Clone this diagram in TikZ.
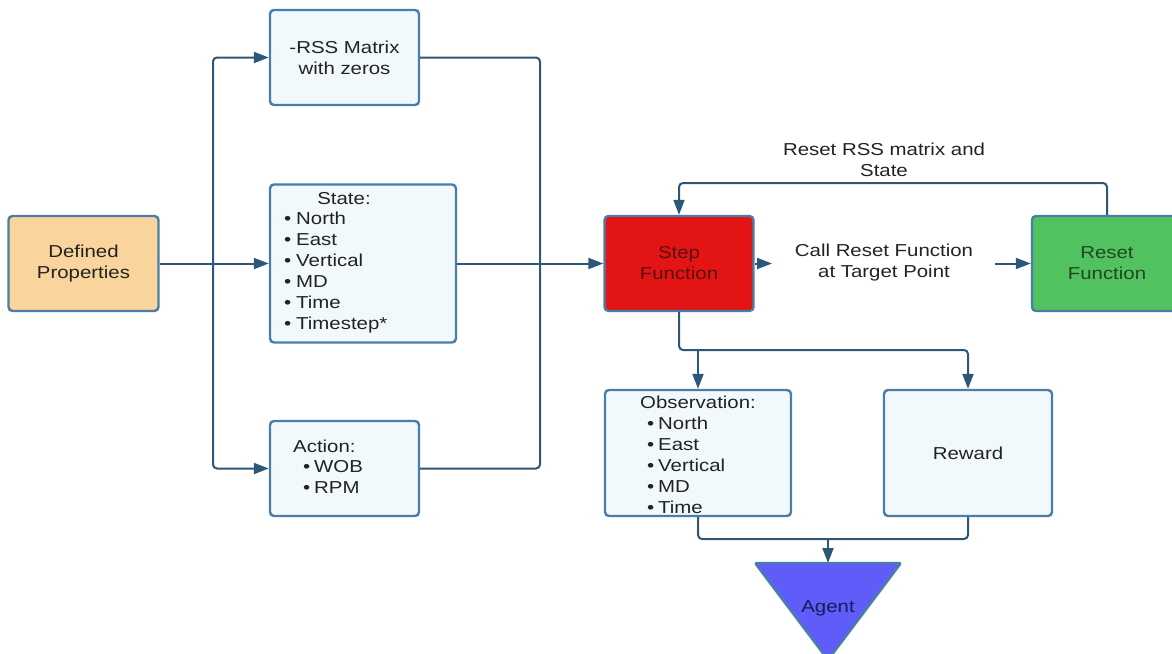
\documentclass[tikz,border=0pt]{standalone}
\usepackage{fontspec}
\setmainfont[FakeStretch=1.18]{Liberation Sans}
\usetikzlibrary{arrows.meta}
\definecolor{bordercol}{HTML}{4A7DA8}
\definecolor{conncol}{HTML}{2D5677}
\definecolor{boxfill}{HTML}{F2F9FC}
\definecolor{deffill}{HTML}{F9D49C}
\definecolor{stepfill}{HTML}{E31414}
\definecolor{resetfill}{HTML}{52C160}
\definecolor{agentfill}{HTML}{5F5CFA}
\definecolor{txt}{HTML}{222222}
\definecolor{steptxt}{HTML}{5A0F12}
\definecolor{resettxt}{HTML}{1F4725}
\definecolor{agenttxt}{HTML}{1A1A55}
\begin{document}
\begin{tikzpicture}[x=1pt,y=-1pt,
  every node/.style={font=\fontsize{17.3}{21}\selectfont, text=txt},
  box/.style={draw=bordercol, line width=2.4pt, rounded corners=4pt, fill=boxfill, align=center, inner sep=0pt},
  lbl/.style={align=center, inner sep=0pt},
  lst/.style={align=left, inner sep=0pt},
  conn/.style={draw=conncol, line width=2pt, rounded corners=4pt},
  arr/.style={-{Triangle[length=15pt,width=11pt]}}
]
\useasboundingbox (0,0) rectangle (1172,653);
\clip (0,0) rectangle (1172,653);

% boxes
\node[box, fill=deffill, minimum width=150, minimum height=95] (def) at (83.5,263.5) {Defined\\Properties};
\node[box, minimum width=149, minimum height=95] (rss) at (344.5,57.5) {-RSS Matrix\\with zeros};
\node[box, minimum width=186, minimum height=158] (state) at (363,263.5) {};
\node[box, minimum width=149, minimum height=95] (action) at (344.5,468.5) {};
\node[box, fill=stepfill, minimum width=149, minimum height=95, text=steptxt] (step) at (679,263.5) {Step\\Function};
\node[box, fill=resetfill, minimum width=150, minimum height=95, text=resettxt] (reset) at (1107,263.5) {Reset\\Function};
\node[box, minimum width=186, minimum height=126] (obs) at (698,453) {};
\node[box, minimum width=168, minimum height=126] (reward) at (968,453) {Reward};

% box contents
\node[lbl] (statehead) at (344,199) {State:};
\node[lst, anchor=west] (statelist) at (284,272.5) {\makebox[12pt][l]{•}North\\\makebox[12pt][l]{•}East\\\makebox[12pt][l]{•}Vertical\\\makebox[12pt][l]{•}MD\\\makebox[12pt][l]{•}Time\\\makebox[12pt][l]{•}Timestep*};
\node[lbl, anchor=west] (acthead) at (293,446) {Action:};
\node[lst, anchor=west] (actlist) at (303,476.5) {\makebox[11pt][l]{•}WOB\\\makebox[11pt][l]{•}RPM};
\node[lbl] (obshead) at (698,402) {Observation:};
\node[lst, anchor=west] (obslist) at (647,465) {\makebox[11pt][l]{•}North\\\makebox[11pt][l]{•}East\\\makebox[11pt][l]{•}Vertical\\\makebox[11pt][l]{•}MD\\\makebox[11pt][l]{•}Time};

% left fan-out
\coordinate (lb) at (213,263.5);
\draw[conn, arr] (def.east) -- (state.west);
\draw[conn, arr] (lb) |- (rss.west);
\draw[conn, arr] (lb) |- (action.west);

% right collector
\coordinate (rb) at (540,263.5);
\draw[conn] (rss.east) -| (rb);
\draw[conn] (action.east) -| (rb);
\draw[conn, arr] (state.east) -- (step.west);

% step -> reset
\coordinate (c1) at (772,263.5);
\coordinate (c2) at (995,263.5);
\draw[conn, arr] (step.east) -- (c1);
\draw[conn, arr] (c2) -- (reset.west);
\node[lbl] (call) at (884,263) {Call Reset Function\\at Target Point};

% reset loop
\coordinate (lt) at (1107,183);
\draw[conn, arr] (reset.north) -- (lt) -| (step.north);
\node[lbl] (resetlbl) at (884,160) {Reset RSS matrix and\\State};

% step -> obs / reward
\coordinate (j1) at (968,350);
\draw[conn, arr] (step.south) |- (j1) -- (reward.north);
\draw[conn, arr] (obs.north |- j1) -- (obs.north);

% obs / reward -> agent
\coordinate (m) at (828,539);
\coordinate (agtop) at (828,563);
\draw[conn] (obs.south) |- (m);
\draw[conn] (reward.south) |- (m);
\draw[conn, arr] (m) -- (agtop);

% agent
\draw[draw=bordercol, line width=2.4pt, fill=agentfill, rounded corners=2pt] (755,563) -- (901,563) -- (828,660) -- cycle;
\node[text=agenttxt] (agent) at (828,608) {Agent};
\end{tikzpicture}
\end{document}
